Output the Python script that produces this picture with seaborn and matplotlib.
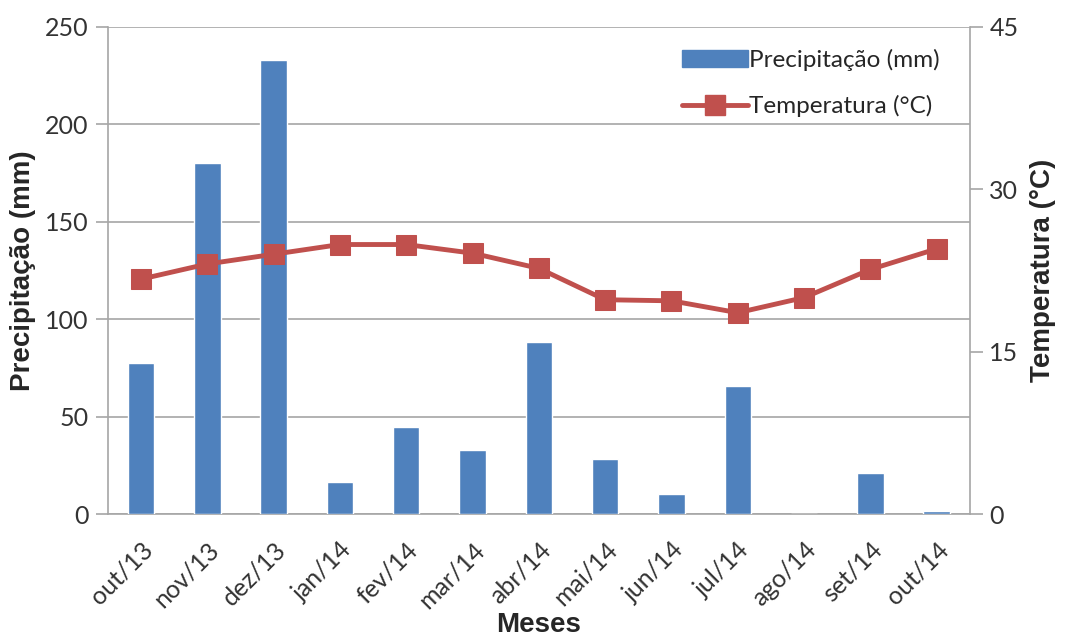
import numpy as np
import pandas as pd
import matplotlib
matplotlib.use("Agg")
import matplotlib.pyplot as plt
import seaborn as sns
from matplotlib.lines import Line2D
from matplotlib.patches import Patch

meses = ["out/13", "nov/13", "dez/13", "jan/14", "fev/14", "mar/14", "abr/14",
         "mai/14", "jun/14", "jul/14", "ago/14", "set/14", "out/14"]
precipitacao = [77.5, 180, 233, 16.5, 44.5, 33, 88.5, 28.5, 10.5, 65.5, 0, 21, 1.5]
temperatura = [21.7, 23.1, 24.0, 24.9, 24.9, 24.1, 22.7, 19.8, 19.7, 18.6, 20.0, 22.6, 24.5]

azul = "#4F81BD"
vermelho = "#C0504D"
cinza = "#A6A6A6"

sns.set_style("white")
plt.rcParams["font.family"] = ["Lato", "DejaVu Sans"]

df = pd.DataFrame({"Meses": meses, "Precipitacao": precipitacao})

fig = plt.figure(figsize=(10.67, 6.41), dpi=100)
ax = fig.add_axes([0.101, 0.198, 0.808, 0.760])

sns.barplot(data=df, x="Meses", y="Precipitacao", color=azul, width=0.4,
            saturation=1, ax=ax, zorder=3)
ax.set_ylim(0, 250)
ax.set_yticks(range(0, 251, 50))
ax.set_xlim(-0.5, 12.5)
ax.grid(axis="y", color=cinza, linewidth=1.2, zorder=0)
ax.set_axisbelow(True)

ax2 = ax.twinx()
sns.lineplot(x=np.arange(len(meses)), y=temperatura, ax=ax2, color=vermelho,
             linewidth=3.5, marker="s", markersize=15, markeredgecolor=vermelho)
ax2.set_ylim(0, 45)
ax2.set_yticks([0, 15, 30, 45])

for a in (ax, ax2):
    for s in a.spines.values():
        s.set_visible(False)
ax.spines["left"].set_visible(True)
ax.spines["bottom"].set_visible(True)
ax2.spines["right"].set_visible(True)
for s in (ax.spines["left"], ax.spines["bottom"], ax2.spines["right"]):
    s.set_color(cinza)
    s.set_linewidth(1.2)

ax.set_xticks(np.arange(len(meses)))
ax.set_xticklabels(meses, rotation=45, ha="right", rotation_mode="anchor",
                   fontsize=18, color="#333333")
ax.set_xticks(np.arange(-0.5, 13, 1), minor=True)
ax.tick_params(axis="x", which="major", length=0, pad=17)
ax.tick_params(axis="x", which="minor", length=9, color=cinza, width=1.2)
ax.tick_params(axis="y", length=9, color=cinza, width=1.2, labelsize=18,
               labelcolor="#333333", pad=5)
ax2.tick_params(axis="y", length=9, color=cinza, width=1.2, labelsize=18,
                labelcolor="#333333", pad=5)

ax.set_xlabel("Meses", fontsize=20, fontweight="bold",
              family=["Liberation Sans", "DejaVu Sans"], labelpad=0)
ax.set_ylabel("Precipitação (mm)", fontsize=20, fontweight="bold",
              family=["Liberation Sans", "DejaVu Sans"], labelpad=6)
ax2.set_ylabel("Temperatura (°C)", fontsize=20, fontweight="bold",
               family=["Liberation Sans", "DejaVu Sans"], labelpad=8)

handles = [Patch(facecolor=azul, edgecolor=azul),
           Line2D([0], [0], color=vermelho, linewidth=3.5, marker="s",
                  markersize=15)]
ax2.legend(handles, ["Precipitação (mm)", "Temperatura (°C)"],
           loc="upper right", bbox_to_anchor=(0.99, 1.0), frameon=False,
           fontsize=17.5, labelspacing=1.0, handlelength=2.7, handletextpad=0.05)

fig.savefig("out.png", dpi=100)
